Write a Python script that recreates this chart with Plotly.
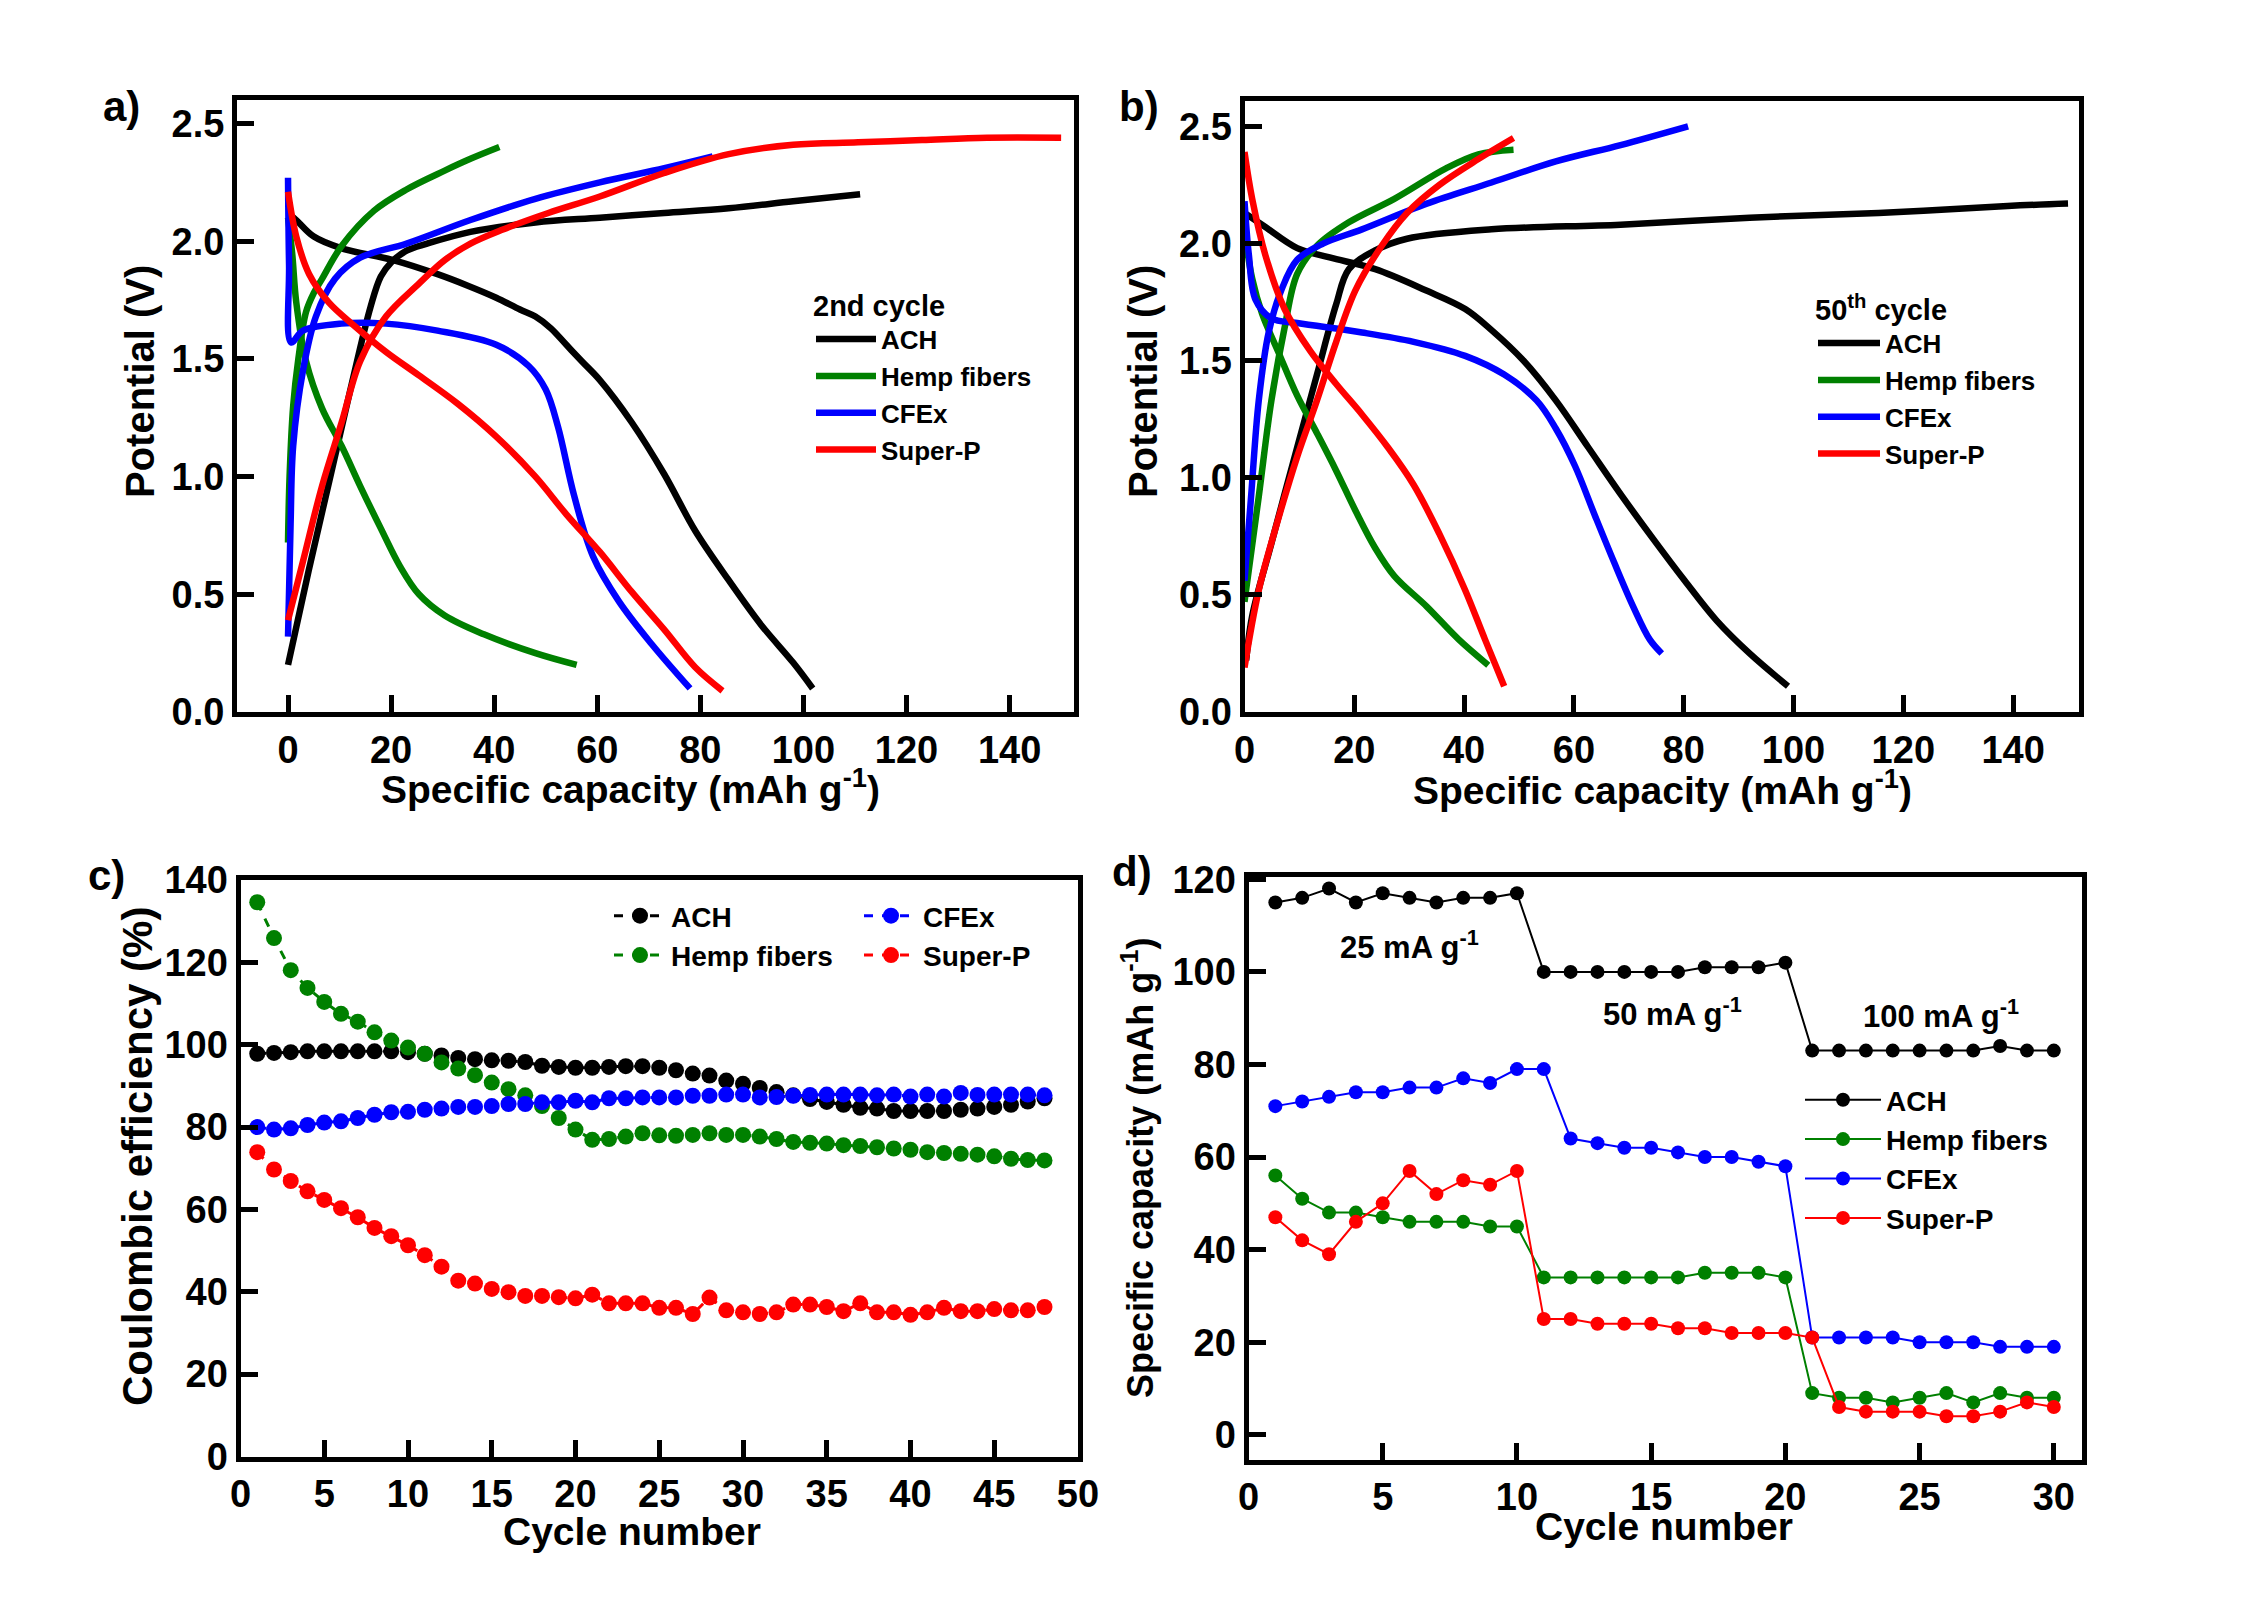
import plotly.graph_objects as go

W, H = 2261, 1605
OFF = 8  # page offset compensation (px)

# ---------------- Panel a (2nd cycle) ----------------
a_ach_ch_x = [0, 4, 8, 12, 16, 18, 20, 23, 27, 35.4, 48, 60.5, 73, 85.5, 98, 111]
a_ach_ch_y = [0.2, 0.6, 0.98, 1.36, 1.72, 1.85, 1.91, 1.96, 1.99, 2.04, 2.08, 2.10, 2.12, 2.14, 2.17, 2.2]
a_ach_dis_x = [0, 1.6, 5, 10.4, 20.4, 29, 35, 40.4, 45, 48, 51, 54, 57, 60.5, 66.7, 73, 79, 85.5, 91.8, 98, 101.8]
a_ach_dis_y = [2.12, 2.09, 2.02, 1.97, 1.92, 1.86, 1.81, 1.76, 1.71, 1.68, 1.63, 1.56, 1.49, 1.41, 1.23, 1.01, 0.77, 0.56, 0.37, 0.21, 0.1]

a_hemp_ch_x = [0, 0.3, 1, 2, 3.5, 5, 6.6, 10.4, 16.7, 23, 30.4, 35.4, 41]
a_hemp_ch_y = [0.72, 1.0, 1.3, 1.5, 1.70, 1.78, 1.84, 1.98, 2.13, 2.22, 2.30, 2.35, 2.40]
a_hemp_dis_x = [0, 0.8, 1.6, 3.5, 6.6, 10.4, 14, 18, 21.7, 25.4, 30.4, 38, 48, 56]
a_hemp_dis_y = [2.1, 1.95, 1.74, 1.49, 1.29, 1.13, 0.96, 0.78, 0.62, 0.50, 0.41, 0.33, 0.25, 0.2]

a_cfex_ch_x = [0, 0.5, 1, 2.9, 5.4, 9.1, 14, 23, 35.4, 48, 60.5, 73, 82.4]
a_cfex_ch_y = [0.32, 0.8, 1.13, 1.45, 1.68, 1.84, 1.93, 1.99, 2.09, 2.18, 2.25, 2.31, 2.36]
a_cfex_dis_x = [0, 0.2, 0.6, 2.9, 10.4, 19, 29, 40.4, 46.7, 50, 52.4, 55.5, 59.2, 64.2, 70.5, 78]
a_cfex_dis_y = [2.27, 1.9, 1.57, 1.62, 1.65, 1.65, 1.62, 1.56, 1.47, 1.37, 1.21, 0.92, 0.66, 0.47, 0.29, 0.1]

a_sp_ch_x = [0, 2.9, 6.6, 10.4, 14, 19, 25.4, 30.4, 35.4, 41.7, 50.5, 60.5, 73, 85.5, 98, 110.6, 123, 135.6, 150]
a_sp_ch_y = [0.39, 0.64, 0.96, 1.23, 1.49, 1.68, 1.82, 1.92, 1.99, 2.05, 2.12, 2.19, 2.29, 2.37, 2.41, 2.42, 2.43, 2.44, 2.44]
a_sp_dis_x = [0, 1.6, 4.1, 7.9, 12.9, 19, 25.4, 32.9, 40.4, 48, 54, 60.5, 66.7, 73, 79, 84.3]
a_sp_dis_y = [2.21, 2.02, 1.86, 1.74, 1.64, 1.53, 1.43, 1.31, 1.17, 1.0, 0.84, 0.68, 0.51, 0.35, 0.19, 0.09]

# ---------------- Panel b (50th cycle) ----------------
b_ach_ch_x = [0.3, 1.4, 4.9, 9.6, 13.2, 16.7, 19, 23.8, 29.6, 45, 68.5, 92, 115.5, 139, 150]
b_ach_ch_y = [0.22, 0.41, 0.72, 1.13, 1.44, 1.74, 1.89, 1.97, 2.02, 2.06, 2.08, 2.11, 2.13, 2.16, 2.17]
b_ach_dis_x = [0, 3.8, 9.6, 15.5, 23.8, 33, 40.2, 45, 50.8, 56.7, 62.6, 68.5, 74.4, 80.2, 86, 92, 99]
b_ach_dis_y = [2.13, 2.07, 1.98, 1.94, 1.89, 1.80, 1.72, 1.63, 1.50, 1.33, 1.13, 0.93, 0.74, 0.56, 0.39, 0.25, 0.11]

b_hemp_ch_x = [0, 2.6, 4.9, 7.3, 9.6, 13.2, 19, 27.3, 36.7, 42.6, 49]
b_hemp_ch_y = [0.47, 0.92, 1.33, 1.64, 1.87, 1.99, 2.09, 2.19, 2.32, 2.38, 2.40]
b_hemp_dis_x = [0, 1.4, 3.2, 6.1, 9.6, 13.2, 16.7, 20.2, 23.8, 27.3, 33.2, 39, 44.4]
b_hemp_dis_y = [2.05, 1.85, 1.70, 1.54, 1.35, 1.19, 1.03, 0.86, 0.70, 0.58, 0.45, 0.31, 0.2]

b_cfex_ch_x = [0, 1.2, 2.6, 4.4, 6.7, 9.6, 14.4, 21.4, 33.2, 45, 56.7, 68.5, 80.8]
b_cfex_ch_y = [0.56, 0.92, 1.33, 1.62, 1.80, 1.93, 2.0, 2.06, 2.17, 2.26, 2.35, 2.42, 2.50]
b_cfex_dis_x = [0, 0.8, 2, 4.9, 9.6, 21.4, 30.8, 40.2, 47.3, 53.2, 56.7, 60.2, 63.8, 67.3, 70.8, 73.8, 76]
b_cfex_dis_y = [2.18, 1.95, 1.76, 1.68, 1.66, 1.62, 1.58, 1.52, 1.44, 1.33, 1.21, 1.05, 0.84, 0.64, 0.45, 0.31, 0.25]

b_sp_ch_x = [0, 2.6, 6.1, 9.6, 13.2, 16.7, 20.2, 25, 29.6, 35.5, 42.6, 49]
b_sp_ch_y = [0.19, 0.52, 0.82, 1.09, 1.33, 1.58, 1.80, 1.99, 2.13, 2.25, 2.36, 2.45]
b_sp_dis_x = [0, 1.4, 3.8, 7.3, 12, 16.7, 21.4, 26.1, 30.8, 35.5, 40.2, 43.8, 47.3]
b_sp_dis_y = [2.39, 2.19, 1.95, 1.72, 1.54, 1.40, 1.27, 1.13, 0.97, 0.76, 0.52, 0.31, 0.11]

# ---------------- Panel c (Coulombic efficiency) ----------------
c_cycles = list(range(1, 49))
c_ach = [97.8, 98, 98.2, 98.4, 98.4, 98.4, 98.4, 98.4, 98.4, 98.2, 97.8, 97.4, 96.8, 96.5, 96.2, 96.1,
         95.8, 94.9, 94.6, 94.4, 94.4, 94.6, 94.8, 94.8, 94.4, 93.8, 93.0, 92.5, 91.3, 90.5, 89.5, 88.5,
         87.7, 86.8, 86.1, 85.4, 84.7, 84.5, 83.9, 83.9, 83.9, 83.9, 84.2, 84.5, 84.9, 85.4, 86.2, 87.0]
c_hemp = [134.6, 125.9, 118.1, 113.8, 110.4, 107.5, 105.6, 103.0, 101.0, 99.3, 97.8, 95.7, 94.2, 92.6,
          90.8, 89.2, 87.7, 85.1, 82.2, 79.4, 76.9, 77.1, 77.7, 78.5, 78.0, 77.9, 78.1, 78.5, 78.1, 78.1,
          77.7, 77.1, 76.4, 76.2, 76.0, 75.6, 75.4, 75.1, 74.8, 74.5, 73.9, 73.7, 73.5, 73.3, 72.9, 72.3,
          72.0, 71.9]
c_cfex = [80.0, 79.4, 79.7, 80.5, 81.1, 81.4, 82.2, 83.0, 83.6, 83.7, 84.2, 84.5, 84.9, 84.9, 85.1, 85.6,
          85.6, 86.0, 86.0, 86.4, 86.0, 87.0, 87.0, 87.2, 87.2, 87.2, 87.6, 87.6, 87.9, 87.9, 87.2, 87.3,
          87.6, 87.8, 87.9, 87.9, 87.9, 87.7, 87.9, 87.4, 87.9, 87.4, 88.3, 87.8, 87.9, 87.9, 87.9, 87.7]
c_sp = [73.9, 69.7, 66.9, 64.4, 62.3, 60.3, 58.1, 55.5, 53.5, 51.3, 48.9, 46.1, 42.7, 42.0, 40.7, 39.9,
        39.0, 39.0, 38.7, 38.4, 39.3, 37.2, 37.2, 37.2, 36.1, 36.1, 34.6, 38.6, 35.5, 35.0, 34.6, 35.0,
        36.9, 36.9, 36.3, 35.3, 37.2, 35.0, 35.0, 34.4, 35.0, 36.1, 35.3, 35.3, 35.8, 35.5, 35.5, 36.3]

# ---------------- Panel d (rate capability) ----------------
d_cycles = list(range(1, 31))
d_ach = [115, 116, 118, 115, 117, 116, 115, 116, 116, 117, 100, 100, 100, 100, 100, 100, 101, 101, 101, 102,
         83, 83, 83, 83, 83, 83, 83, 84, 83, 83]
d_hemp = [56, 51, 48, 48, 47, 46, 46, 46, 45, 45, 34, 34, 34, 34, 34, 34, 35, 35, 35, 34,
          9, 8, 8, 7, 8, 9, 7, 9, 8, 8]
d_cfex = [71, 72, 73, 74, 74, 75, 75, 77, 76, 79, 79, 64, 63, 62, 62, 61, 60, 60, 59, 58,
          21, 21, 21, 21, 20, 20, 20, 19, 19, 19]
d_sp = [47, 42, 39, 46, 50, 57, 52, 55, 54, 57, 25, 25, 24, 24, 24, 23, 23, 22, 22, 22,
        21, 6, 5, 5, 5, 4, 4, 5, 7, 6]
d_rate_labels = ["25 mA g<sup>-1</sup>", "50 mA g<sup>-1</sup>", "100 mA g<sup>-1</sup>"]
d_rate_x = [6.0, 15.8, 25.8]
d_rate_y = [105.8, 91.3, 90.9]

names = ["ACH", "Hemp fibers", "CFEx", "Super-P"]
colors = ["#000000", "#008000", "#0000FF", "#FF0000"]

FONT = "Liberation Sans, Arial, sans-serif"

def join(x1, y1, x2, y2):
    return x1 + [None] + x2, y1 + [None] + y2

def PX(px):
    return (px - OFF) / W

def PY(py):
    return 1 - (py - OFF) / H

fig = go.Figure()

a_sets = [(a_ach_ch_x, a_ach_ch_y, a_ach_dis_x, a_ach_dis_y),
          (a_hemp_ch_x, a_hemp_ch_y, a_hemp_dis_x, a_hemp_dis_y),
          (a_cfex_ch_x, a_cfex_ch_y, a_cfex_dis_x, a_cfex_dis_y),
          (a_sp_ch_x, a_sp_ch_y, a_sp_dis_x, a_sp_dis_y)]
b_sets = [(b_ach_ch_x, b_ach_ch_y, b_ach_dis_x, b_ach_dis_y),
          (b_hemp_ch_x, b_hemp_ch_y, b_hemp_dis_x, b_hemp_dis_y),
          (b_cfex_ch_x, b_cfex_ch_y, b_cfex_dis_x, b_cfex_dis_y),
          (b_sp_ch_x, b_sp_ch_y, b_sp_dis_x, b_sp_dis_y)]

for i, (s, c) in enumerate(zip(a_sets, colors)):
    x, y = join(*s)
    fig.add_trace(go.Scatter(x=x, y=y, mode="lines", name=names[i], xaxis="x", yaxis="y",
                             line=dict(color=c, width=6.5, shape="spline", smoothing=1.0),
                             legend="legend", connectgaps=False))
for i, (s, c) in enumerate(zip(b_sets, colors)):
    x, y = join(*s)
    fig.add_trace(go.Scatter(x=x, y=y, mode="lines", name=names[i], xaxis="x2", yaxis="y2",
                             line=dict(color=c, width=6.5, shape="spline", smoothing=1.0),
                             legend="legend2", connectgaps=False))

c_series = [c_ach, c_hemp, c_cfex, c_sp]
c_leg = ["legend3", "legend3", "legend4", "legend4"]
for i, (vals, c) in enumerate(zip(c_series, colors)):
    fig.add_trace(go.Scatter(x=c_cycles, y=vals, mode="lines+markers", name=names[i],
                             xaxis="x3", yaxis="y3", legend=c_leg[i],
                             line=dict(color=c, width=3, dash="dash"),
                             marker=dict(color=c, size=16)))

d_series = [d_ach, d_hemp, d_cfex, d_sp]
for i, (vals, c) in enumerate(zip(d_series, colors)):
    fig.add_trace(go.Scatter(x=d_cycles, y=vals, mode="lines+markers", name=names[i],
                             xaxis="x4", yaxis="y4", legend="legend5",
                             line=dict(color=c, width=2),
                             marker=dict(color=c, size=14)))

def px_dom_x(l, r):
    return [PX(l), PX(r)]

def px_dom_y(t, b):
    return [PY(b), PY(t)]

tickfont = dict(family=FONT, size=38, color="black", weight="bold")
axis_common = dict(showline=True, linewidth=5, linecolor="black", mirror=True,
                   ticks="inside", ticklen=17, tickwidth=5, tickcolor="black",
                   showgrid=False, zeroline=False, tickfont=tickfont, automargin=False)

fig.update_layout(
    width=W, height=H, paper_bgcolor="white", plot_bgcolor="white",
    margin=dict(l=0, r=0, t=0, b=0, pad=0, autoexpand=False),
    font=dict(family=FONT, color="black"),
    xaxis=dict(domain=px_dom_x(237, 1073.5), anchor="y", range=[-9.9, 152.4],
               tickvals=[0, 20, 40, 60, 80, 100, 120, 140], **axis_common),
    yaxis=dict(domain=px_dom_y(100, 712), anchor="x", range=[0, 2.6],
               tickvals=[0, 0.5, 1, 1.5, 2, 2.5], tickformat=".1f", **axis_common),
    xaxis2=dict(domain=px_dom_x(1244.5, 2079), anchor="y2", range=[0, 152],
                tickvals=[0, 20, 40, 60, 80, 100, 120, 140], **axis_common),
    yaxis2=dict(domain=px_dom_y(100.5, 712), anchor="x2", range=[0, 2.61],
                tickvals=[0, 0.5, 1, 1.5, 2, 2.5], tickformat=".1f", **axis_common),
    xaxis3=dict(domain=px_dom_x(240.5, 1078), anchor="y3", range=[0, 50],
                tickvals=list(range(0, 51, 5)), **axis_common),
    yaxis3=dict(domain=px_dom_y(880, 1456.5), anchor="x3", range=[0, 140],
                tickvals=list(range(0, 141, 20)), **axis_common),
    xaxis4=dict(domain=px_dom_x(1248.5, 2082), anchor="y4", range=[0, 31.05],
                tickvals=list(range(0, 31, 5)), **axis_common),
    yaxis4=dict(domain=px_dom_y(877, 1459.5), anchor="x4", range=[-5.34, 120.5],
                tickvals=list(range(0, 121, 20)), **axis_common),
)

legfont_ab = dict(family=FONT, size=26, color="black", weight="bold")
legfont_cd = dict(family=FONT, size=28, color="black", weight="bold")
legtitle = dict(family=FONT, size=29, color="black", weight="bold")
leg_common = dict(bgcolor="rgba(0,0,0,0)", borderwidth=0, xanchor="left",
                  yanchor="top", tracegroupgap=0)
fig.update_layout(
    legend=dict(x=PX(811), y=PY(278), font=legfont_ab, itemwidth=60,
                title=dict(text="2nd cycle", font=legtitle, side="top"), **leg_common),
    legend2=dict(x=PX(1813), y=PY(282), font=legfont_ab, itemwidth=62,
                 title=dict(text="50<sup>th</sup> cycle", font=legtitle, side="top"), **leg_common),
    legend3=dict(x=PX(609), y=PY(891), font=legfont_cd, itemwidth=52, **leg_common),
    legend4=dict(x=PX(859), y=PY(891), font=legfont_cd, itemwidth=54, **leg_common),
    legend5=dict(x=PX(1800), y=PY(1075), font=legfont_cd, itemwidth=76, **leg_common),
)

titlefont = dict(family=FONT, size=39, color="black", weight="bold")
ann = []
def A(text, x, y, angle=0, font=titlefont, xr="paper", yr="paper"):
    ann.append(dict(text=text, x=x, y=y, xref=xr, yref=yr, showarrow=False, textangle=angle,
                    font=font, xanchor="center", yanchor="middle"))

A("Specific capacity (mAh g<sup>-1</sup>)", PX(630), PY(786))
A("Specific capacity (mAh g<sup>-1</sup>)", PX(1662), PY(787))
A("Cycle number", PX(632), PY(1531))
A("Cycle number", PX(1664), PY(1526))
A("Potential (V)", PX(140), PY(382), angle=-90, font=dict(family=FONT, size=40, weight="bold"))
A("Potential (V)", PX(1143), PY(382), angle=-90, font=dict(family=FONT, size=40, weight="bold"))
A("Coulombic efficiency (%)", PX(137), PY(1157), angle=-90,
  font=dict(family=FONT, size=42, weight="bold"))
A("Specific capacity (mAh g<sup>-1</sup>)", PX(1138), PY(1168), angle=-90,
  font=dict(family=FONT, size=36, weight="bold"))

labfont = dict(family=FONT, size=42, color="black", weight="bold")
A("a)", PX(121), PY(106), font=labfont)
A("b)", PX(1139), PY(106), font=labfont)
A("c)", PX(106), PY(875), font=labfont)
A("d)", PX(1132), PY(871), font=labfont)

ratefont = dict(family=FONT, size=31, color="black", weight="bold")
for t, xv, yv in zip(d_rate_labels, d_rate_x, d_rate_y):
    A(t, xv, yv, font=ratefont, xr="x4", yr="y4")

fig.update_layout(annotations=ann)
fig.write_html("out.html")
